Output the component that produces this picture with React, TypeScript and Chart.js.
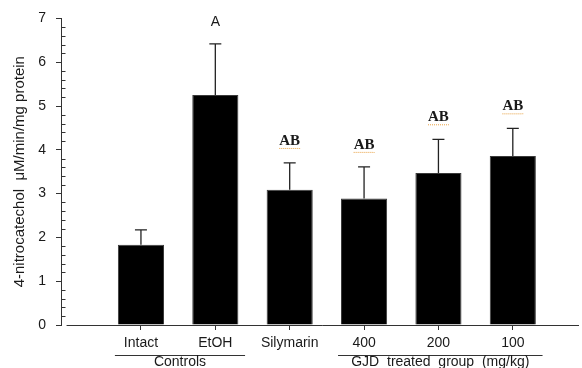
import React, { useEffect, useRef } from 'react';
import { Chart, registerables } from 'chart.js';

Chart.register(...registerables);

const categories = ['Intact', 'EtOH', 'Silymarin', '400', '200', '100'];
const means = [1.83, 5.25, 3.09, 2.89, 3.47, 3.86];
const errors = [0.34, 1.17, 0.61, 0.72, 0.77, 0.63];
const letters = ['', 'A', 'AB', 'AB', 'AB', 'AB'];
const groupLabels = ['Controls', 'GJD  treated  group  (mg/kg)'];
const groupFirst = [1, 4];
const groupLast = [2, 6];
const yMin = 0;
const yMax = 7;
const yStep = 1;
const yMinorStep = 0.2;
const yTitle = '4-nitrocatechol  \u03bcM/min/mg protein';

const SANS = "'Liberation Sans', Arial, sans-serif";
const SERIF = "'Liberation Serif', 'Times New Roman', serif";
const AXIS = '#333333';
const TEXT = '#1a1a1a';

const extrasPlugin = {
  id: 'extras',
  afterDatasetsDraw(chart: any) {
    const { ctx, chartArea } = chart;
    const x = chart.scales.x;
    const y = chart.scales.y;
    const meta = chart.getDatasetMeta(0);
    ctx.save();

    // x axis line (offset from y axis)
    const y0 = Math.round(y.getPixelForValue(0)) + 0.5;
    ctx.strokeStyle = AXIS;
    ctx.lineWidth = 1;
    ctx.beginPath();
    ctx.moveTo(x.getPixelForValue(0), y0);
    ctx.lineTo(chartArea.right, y0);
    ctx.stroke();

    // minor ticks, inward
    const left = Math.round(chartArea.left) + 0.5;
    for (let v = yMin + yMinorStep; v < yMax - 1e-6; v += yMinorStep) {
      const r = Math.round(v / yStep);
      if (Math.abs(v - r * yStep) < 1e-6) continue;
      const py = Math.round(y.getPixelForValue(v)) + 0.5;
      ctx.beginPath();
      ctx.moveTo(left, py);
      ctx.lineTo(left + 4, py);
      ctx.stroke();
    }

    // error bars + letters
    meta.data.forEach((bar: any, i: number) => {
      const xc = bar.x;
      const yb = y.getPixelForValue(means[i]);
      const yt = y.getPixelForValue(means[i] + errors[i]);
      ctx.strokeStyle = '#222';
      ctx.lineWidth = 1.3;
      ctx.beginPath();
      ctx.moveTo(xc, yb);
      ctx.lineTo(xc, yt);
      ctx.moveTo(xc - 6, yt);
      ctx.lineTo(xc + 6, yt);
      ctx.stroke();

      const t = letters[i];
      if (!t) return;
      const ty = yt - 22;
      ctx.fillStyle = TEXT;
      ctx.textAlign = 'center';
      ctx.textBaseline = 'middle';
      if (t === 'A') {
        ctx.font = `14px ${SANS}`;
        ctx.fillText(t, xc, ty);
      } else {
        ctx.font = `bold 15px ${SERIF}`;
        ctx.fillText(t, xc, ty);
        const w = ctx.measureText(t).width;
        ctx.strokeStyle = '#e8a040';
        ctx.lineWidth = 1;
        ctx.setLineDash([1, 1]);
        ctx.beginPath();
        ctx.moveTo(xc - w / 2, ty + 7.5);
        ctx.lineTo(xc + w / 2, ty + 7.5);
        ctx.stroke();
        ctx.setLineDash([]);
      }
    });

    // group labels under the axis
    const lineY = Math.round(chartArea.bottom + 30) + 0.5;
    groupLabels.forEach((g, k) => {
      const xa = x.getPixelForValue(groupFirst[k] - 0.35);
      const xb = x.getPixelForValue(groupLast[k] + 0.4);
      ctx.strokeStyle = AXIS;
      ctx.lineWidth = 1;
      ctx.beginPath();
      ctx.moveTo(xa, lineY);
      ctx.lineTo(xb, lineY);
      ctx.stroke();
      ctx.fillStyle = TEXT;
      ctx.font = `14px ${SANS}`;
      ctx.textAlign = 'center';
      ctx.textBaseline = 'middle';
      ctx.fillText(g, (xa + xb) / 2, lineY + 7);
    });

    ctx.restore();
  },
};

export default function App() {
  const ref = useRef<HTMLCanvasElement>(null);

  useEffect(() => {
    document.body.style.margin = '0';
    const chart = new Chart(ref.current as HTMLCanvasElement, {
      type: 'bar',
      data: {
        datasets: [
          {
            data: means.map((m, i) => ({ x: i + 1, y: m })),
            backgroundColor: '#000000',
            borderColor: '#3a3a3a',
            borderWidth: 1,
            categoryPercentage: 1,
            barPercentage: 0.62,
          } as any,
        ],
      },
      options: {
        responsive: false,
        animation: false,
        events: [],
        layout: { padding: { top: 15, right: 3, left: 0, bottom: 0 } },
        plugins: { legend: { display: false }, tooltip: { enabled: false } },
        scales: {
          x: {
            type: 'linear',
            min: -0.075,
            max: 6.89,
            offset: false,
            afterFit(scale: any) {
              scale.height = 43;
              scale.paddingLeft = 0;
              scale.paddingRight = 0;
            },
            afterBuildTicks(scale: any) {
              scale.ticks = categories.map((_, i) => ({ value: i + 1 }));
            },
            border: { display: false },
            grid: {
              offset: false,
              drawOnChartArea: false,
              drawTicks: true,
              tickLength: 5,
              color: AXIS,
            },
            ticks: {
              autoSkip: false,
              maxRotation: 0,
              padding: 5,
              color: TEXT,
              font: { family: SANS, size: 14 },
              callback: (v: any) => categories[Math.round(v) - 1] ?? '',
            },
          } as any,
          y: {
            min: yMin,
            max: yMax,
            afterFit(scale: any) {
              scale.width = 61;
            },
            border: { display: true, color: AXIS, width: 1 },
            grid: {
              drawOnChartArea: false,
              drawTicks: true,
              tickLength: 5,
              color: AXIS,
            },
            ticks: {
              stepSize: yStep,
              padding: 10,
              color: TEXT,
              font: { family: SANS, size: 14 },
            },
            title: {
              display: true,
              text: yTitle,
              color: TEXT,
              font: { family: SANS, size: 15 },
              padding: { top: 11, bottom: 0 },
            },
          },
        },
      },
      plugins: [extrasPlugin],
    });
    return () => chart.destroy();
  }, []);

  return (
    <div style={{ width: 582, height: 368 }}>
      <canvas ref={ref} width={582} height={368} style={{ display: 'block' }} />
    </div>
  );
}
